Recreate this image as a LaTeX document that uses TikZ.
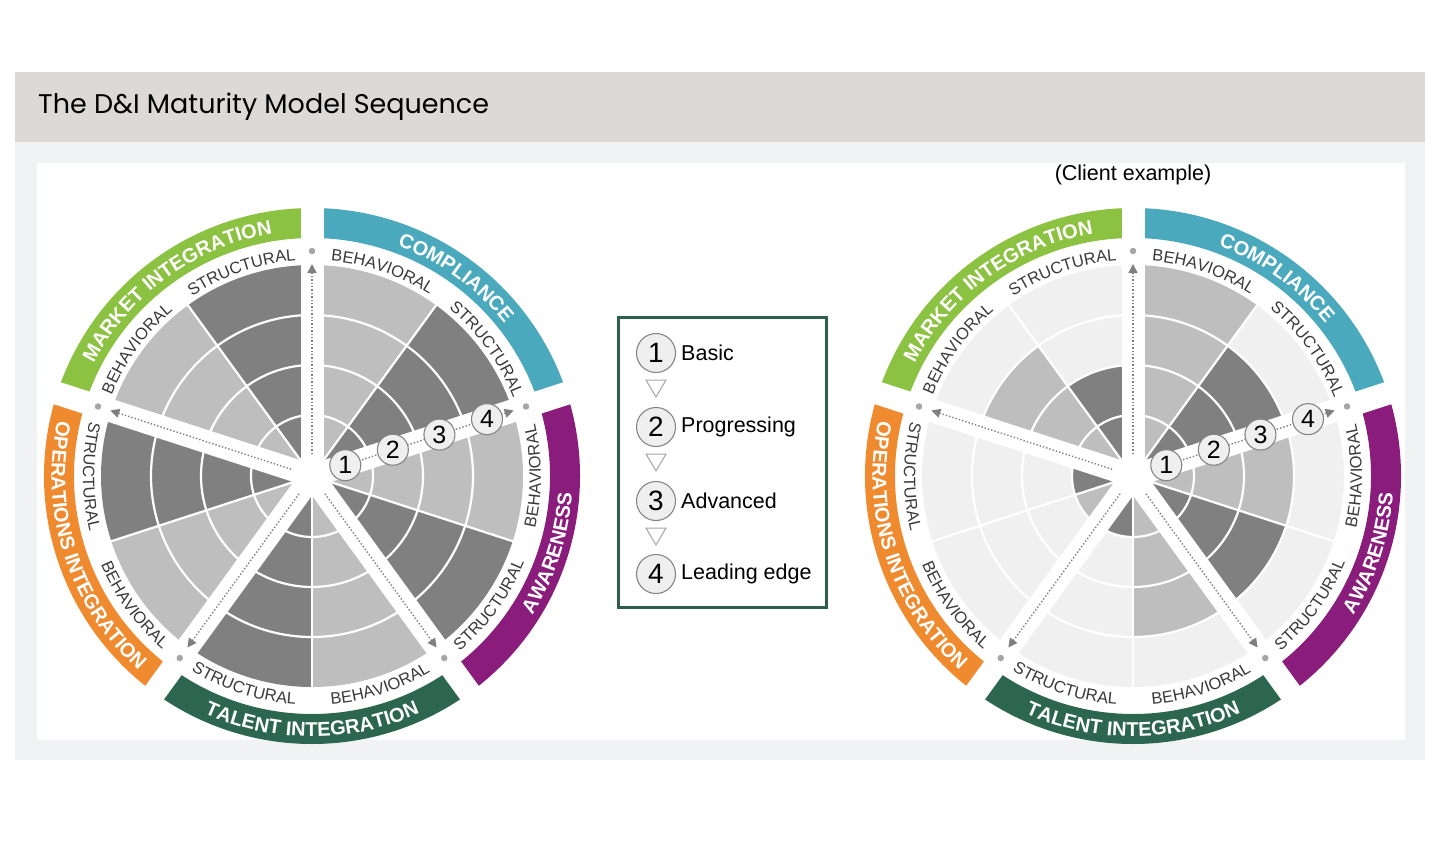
\documentclass[tikz,border=0pt]{standalone}
\usepackage{fontspec}
\setmainfont{Liberation Sans}
\newfontfamily\titlefont{Poppins}
\usetikzlibrary{decorations.text,arrows.meta}
\definecolor{titlebg}{HTML}{DCD9D6}
\definecolor{panelbg}{HTML}{F1F2F4}
\definecolor{cDark}{HTML}{808080}
\definecolor{cLight}{HTML}{BEBEBE}
\definecolor{cVery}{HTML}{F0F0F0}
\definecolor{cComp}{HTML}{4AA9BD}
\definecolor{cAware}{HTML}{8A1C7C}
\definecolor{cTalent}{HTML}{2C6650}
\definecolor{cOps}{HTML}{F08A2F}
\definecolor{cMarket}{HTML}{8CC241}
\definecolor{legendframe}{HTML}{2D5F4C}
\definecolor{labelgray}{HTML}{3A3A3A}
\definecolor{arrowgray}{HTML}{7F7F7F}
\definecolor{dotgray}{HTML}{A5A5A5}
\definecolor{numfill}{HTML}{EFEFEF}
\definecolor{numdraw}{HTML}{858585}
\tikzset{
  spokearrow/.style={arrowgray,line width=1.4pt,dash pattern=on 1.4pt off 2pt,-{Triangle[width=9pt,length=9pt]}},
  spokedot/.style={circle,fill=dotgray,inner sep=0pt,minimum size=6.5pt},
  numc/.style={circle,draw=numdraw,fill=numfill,line width=1.1pt,inner sep=0pt,minimum size=31pt,font=\fontsize{25}{25}\selectfont},
  legc/.style={circle,draw=numdraw,fill=numfill,line width=1.1pt,inner sep=0pt,minimum size=39pt,font=\fontsize{28}{28}\selectfont},
  legtext/.style={anchor=west,inner sep=0pt,font=\fontsize{21.5}{24}\selectfont},
  legtri/.style={draw=dotgray,line width=1pt,fill=white},
}
% text along an arc
\newcommand\arctext[6]{%
  \path[decorate,decoration={text along path,text align=center,text color=#4,
    text={|#5|#6}}] (#1:#3) arc[start angle=#1,end angle=#2,radius=#3];}
\newcommand\bandfont{\fontsize{20}{20}\selectfont\bfseries}
\newcommand\smallfont{\fontsize{16.5}{17}\selectfont}
\newcommand\drawwheel[3]{%
\begin{scope}[shift={(#1,-476)}]
  \foreach \k/\h/\ca/\cb/\cc/\cd in {#3}{%
    \pgfmathsetmacro\aS{90-72*\k-36*\h}%
    \pgfmathsetmacro\aE{\aS-36}%
    \fill[\ca] (0,0) -- (\aS:61) arc[start angle=\aS,end angle=\aE,radius=61] -- cycle;
    \fill[\cb] (\aS:111) arc[start angle=\aS,end angle=\aE,radius=111] -- (\aE:61) arc[start angle=\aE,end angle=\aS,radius=61] -- cycle;
    \fill[\cc] (\aS:161) arc[start angle=\aS,end angle=\aE,radius=161] -- (\aE:111) arc[start angle=\aE,end angle=\aS,radius=111] -- cycle;
    \fill[\cd] (\aS:211) arc[start angle=\aS,end angle=\aE,radius=211] -- (\aE:161) arc[start angle=\aE,end angle=\aS,radius=161] -- cycle;
  }
  \foreach \r in {61,111,161}{\draw[white,line width=2.2pt] (0,0) circle[radius=\r];}
  \foreach \a in {54,-18,-90,-162,-234}{\draw[white,line width=2.2pt] (0,0) -- (\a:212);}
  \foreach \a/\c in {90/cComp,18/cAware,-54/cTalent,-126/cOps,-198/cMarket}{%
    \pgfmathsetmacro\bE{\a-72}%
    \fill[\c] (\a:268) arc[start angle=\a,end angle=\bE,radius=268] -- (\bE:238) arc[start angle=\bE,end angle=\a,radius=238] -- cycle;
  }
  \foreach \a in {90,18,-54,-126,-198}{\draw[white,line width=23pt] (0,0) -- (\a:275);}
  \fill[white] (0,0) circle[radius=21];
  % band labels
  \arctext{94}{14}{245.5}{white}{\bandfont}{COMPLIANCE}
  \arctext{166}{86}{245.5}{white}{\bandfont}{MARKET INTEGRATION}
  \arctext{-58}{22}{260.5}{white}{\bandfont}{AWARENESS}
  \arctext{-130}{-50}{260.5}{white}{\bandfont}{TALENT INTEGRATION}
  \arctext{158}{238}{260.5}{white}{\bandfont}{OPERATIONS INTEGRATION}
  % half labels
  \arctext{91}{51}{216}{labelgray}{\smallfont}{BEHAVIORAL}
  \arctext{56}{16}{216}{labelgray}{\smallfont}{STRUCTURAL}
  \arctext{164}{124}{216}{labelgray}{\smallfont}{BEHAVIORAL}
  \arctext{129}{89}{216}{labelgray}{\smallfont}{STRUCTURAL}
  \arctext{-20}{20}{229}{labelgray}{\smallfont}{BEHAVIORAL}
  \arctext{-56}{-16}{229}{labelgray}{\smallfont}{STRUCTURAL}
  \arctext{-92}{-52}{229}{labelgray}{\smallfont}{BEHAVIORAL}
  \arctext{-128}{-88}{229}{labelgray}{\smallfont}{STRUCTURAL}
  \arctext{196}{236}{229}{labelgray}{\smallfont}{BEHAVIORAL}
  \arctext{160}{200}{229}{labelgray}{\smallfont}{STRUCTURAL}
  % spoke arrows and dots
  \foreach \i/\a in {0/90,1/18,2/-54,3/-126,4/-198}{%
    \coordinate (#2-s\i-in) at (\a:22);
    \coordinate (#2-s\i-tip) at (\a:212);
    \node[spokedot] (#2-d\i) at (\a:225) {};
    \draw[spokearrow] (#2-s\i-in) -- (#2-s\i-tip);
  }
  \node[numc] (#2-n1) at (18:35) {1};
  \node[numc] (#2-n2) at (18:85) {2};
  \node[numc] (#2-n3) at (18:134) {3};
  \node[numc] (#2-n4) at (18:184) {4};
\end{scope}}

\begin{document}
\begin{tikzpicture}[x=1pt,y=1pt]
\useasboundingbox (0,0) rectangle (1440,-841);
\fill[white] (0,0) rectangle (1440,-841);
\fill[panelbg] (15,-142) rectangle (1425,-760);
\fill[titlebg] (15,-72) rectangle (1425,-142);
\fill[white] (37,-163) rectangle (1405,-740);
\node[anchor=west,inner sep=0pt,font=\titlefont\fontsize{27}{32}\selectfont] (title) at (38,-107) {The D\&I Maturity Model Sequence};

\drawwheel{312}{L}{0/0/cLight/cLight/cLight/cLight,0/1/cDark/cDark/cDark/cDark,
1/0/cLight/cLight/cLight/cLight,1/1/cDark/cDark/cDark/cDark,
2/0/cLight/cLight/cLight/cLight,2/1/cDark/cDark/cDark/cDark,
3/0/cLight/cLight/cLight/cLight,3/1/cDark/cDark/cDark/cDark,
4/0/cLight/cLight/cLight/cLight,4/1/cDark/cDark/cDark/cDark}

\drawwheel{1133}{R}{0/0/cLight/cLight/cLight/cLight,0/1/cDark/cDark/cDark/cVery,
1/0/cLight/cLight/cLight/cVery,1/1/cDark/cDark/cDark/cVery,
2/0/cLight/cLight/cLight/cVery,2/1/cDark/cVery/cVery/cVery,
3/0/cLight/cVery/cVery/cVery,3/1/cDark/cVery/cVery/cVery,
4/0/cLight/cLight/cLight/cVery,4/1/cDark/cDark/cVery/cVery}

\node[inner sep=0pt,font=\fontsize{21.5}{24}\selectfont] (client) at (1133,-175) {(Client example)};

% legend
\draw[legendframe,line width=3pt] (618,-317) rectangle (826,-607);
\node[legc] (g1) at (656,-353) {1};
\node[legc] (g2) at (656,-427) {2};
\node[legc] (g3) at (656,-501) {3};
\node[legc] (g4) at (656,-574) {4};
\node[legtext] (t1) at (681,-353) {Basic};
\node[legtext] (t2) at (681,-427) {Progressing};
\node[legtext] (t3) at (681,-501) {Advanced};
\node[legtext] (t4) at (681,-574) {Leading edge};
\foreach \y in {-380,-454,-528}{\draw[legtri] (646,\y) -- (666,\y) -- (656,\y-17) -- cycle;}
\end{tikzpicture}
\end{document}
